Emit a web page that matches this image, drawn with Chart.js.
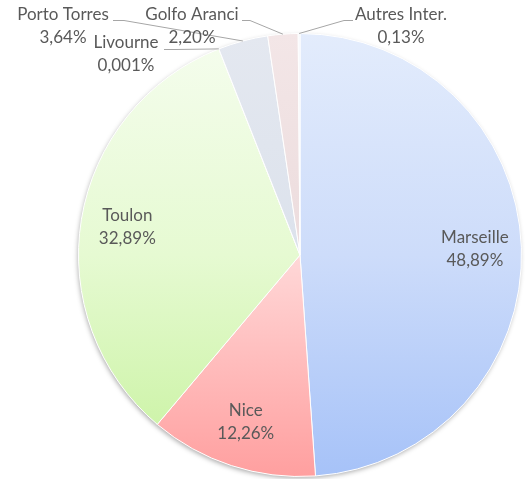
<!DOCTYPE html>
<html lang="fr">
<head>
<meta charset="utf-8">
<title>Répartition des passagers</title>
<script src="https://cdn.jsdelivr.net/npm/chart.js@4.4.0/dist/chart.umd.min.js"></script>
<style>
  body{margin:0;background:#fff;}
  canvas{display:block;}
</style>
</head>
<body>
<canvas id="pie" width="525" height="479"></canvas>
<script>
/* ---- données ---- */
const categories = ['Marseille','Nice','Toulon','Livourne','Porto Torres','Golfo Aranci','Autres Inter.'];
const shares     = [48.89, 12.26, 32.89, 0.001, 3.64, 2.20, 0.13];

/* ---- couleurs (dégradé haut -> bas) ---- */
const gradTop = ['#e3ecfc','#ffeeee','#f5fdee','#eef3fb','#e4e8f0','#f3e6e7','#f4f6fb'];
const gradMid = ['#cddcfa','#ffd8d8','#e6fad2','#dfe6f3','#dce2ec','#ecdcdd','#eef1f8'];
const gradBot = ['#a6c2f8','#ff9f9f','#c7f29e','#c3d0e8','#c8d0de','#dcc4c6','#dde3f0'];

function fmt(v){
  return v.toFixed(v < 0.01 ? 3 : 2).replace('.', ',') + '%';
}

/* positions des étiquettes extérieures (texte) */
const outside = {
  3: {x:126, y:43, elbow:[175,49], start:[164,49]},
  4: {x:63,  y:15, elbow:[124,20], start:[113,20]},
  5: {x:192, y:15, elbow:[250,20], start:[242,20]},
  6: {x:401, y:15, elbow:[344,20], start:[353,20]}
};

const shadowPlugin = {
  id:'pieShadow',
  beforeDatasetsDraw(chart){
    const a = chart.getDatasetMeta(0).data[0];
    if(!a) return;
    const ctx = chart.ctx;
    ctx.save();
    ctx.shadowColor = 'rgba(0,0,0,0.35)';
    ctx.shadowBlur = 5;
    ctx.shadowOffsetX = -1;
    ctx.shadowOffsetY = 2;
    ctx.fillStyle = '#fff';
    ctx.beginPath();
    ctx.arc(a.x, a.y, a.outerRadius - 0.5, 0, Math.PI*2);
    ctx.fill();
    ctx.restore();
  }
};

const labelPlugin = {
  id:'pieLabels',
  afterDatasetsDraw(chart){
    const ctx = chart.ctx;
    const meta = chart.getDatasetMeta(0);
    ctx.save();
    ctx.font = '17px Lato, "Liberation Sans", sans-serif';
    ctx.fillStyle = '#595959';
    ctx.textAlign = 'center';
    ctx.textBaseline = 'middle';
    meta.data.forEach((arc, i) => {
      const mid = (arc.startAngle + arc.endAngle) / 2;
      const o = outside[i];
      if(o){
        const ex = arc.x + Math.cos(mid) * arc.outerRadius;
        const ey = arc.y + Math.sin(mid) * arc.outerRadius;
        ctx.strokeStyle = '#a6a6a6';
        ctx.lineWidth = 1;
        ctx.beginPath();
        ctx.moveTo(o.start[0], o.start[1] + 0.5);
        ctx.lineTo(o.elbow[0], o.elbow[1] + 0.5);
        ctx.lineTo(ex, ey);
        ctx.stroke();
        ctx.fillText(categories[i], o.x, o.y);
        ctx.fillText(fmt(shares[i]), o.x, o.y + 23);
      } else {
        const r = arc.outerRadius * 0.79;
        const x = arc.x + Math.cos(mid) * r;
        const y = arc.y + Math.sin(mid) * r;
        ctx.fillText(categories[i], x, y - 11);
        ctx.fillText(fmt(shares[i]), x, y + 12);
      }
    });
    ctx.restore();
  }
};

new Chart(document.getElementById('pie'), {
  type:'pie',
  data:{
    labels:categories,
    datasets:[{
      data:shares,
      backgroundColor:(c) => {
        const area = c.chart.chartArea;
        if(!area) return gradMid[c.dataIndex];
        const g = c.chart.ctx.createLinearGradient(0, area.top, 0, area.bottom);
        g.addColorStop(0, gradTop[c.dataIndex]);
        g.addColorStop(0.5, gradMid[c.dataIndex]);
        g.addColorStop(1, gradBot[c.dataIndex]);
        return g;
      },
      borderColor:'#ffffff',
      borderWidth:1
    }]
  },
  options:{
    responsive:false,
    animation:false,
    layout:{padding:{left:78, right:3, top:33, bottom:2}},
    plugins:{
      legend:{display:false},
      tooltip:{enabled:false}
    }
  },
  plugins:[shadowPlugin, labelPlugin]
});
</script>
</body>
</html>
